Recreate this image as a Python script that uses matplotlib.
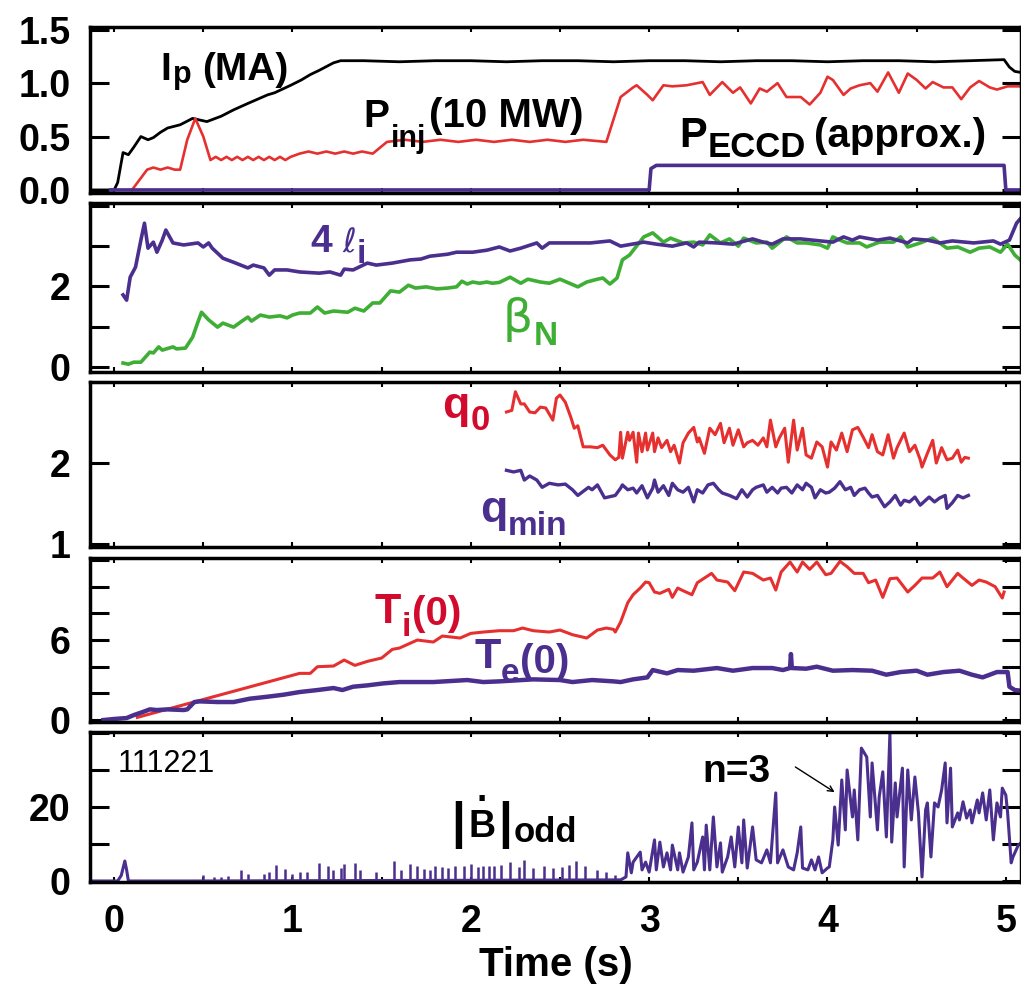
import numpy as np
import matplotlib
matplotlib.use('Agg')
import matplotlib.pyplot as plt
from matplotlib.transforms import IdentityTransform

SANS = ['Liberation Sans', 'DejaVu Sans']
GREEK = ['DejaVu Sans']
plt.rcParams['font.family'] = SANS
plt.rcParams['font.weight'] = 'bold'

RED = '#e5302f'
RED_TXT = '#d20a2e'
PURPLE = '#4a2f8e'
GREEN = '#3fae35'

# ---- panel 1: Ip, Pinj, P_ECCD ----
ip_t = [-0.135, 0.0, 0.02, 0.05, 0.08, 0.11, 0.15, 0.19, 0.22, 0.26,
        0.30, 0.37, 0.44, 0.52, 0.60, 0.67, 0.75, 0.86, 0.90, 0.99,
        1.05, 1.10, 1.15, 1.23, 1.27, 1.40, 1.60, 1.80, 2.00, 2.20,
        2.40, 2.60, 2.80, 3.00, 3.20, 3.40, 3.60, 3.80, 4.00, 4.20,
        4.40, 4.60, 4.80, 4.99, 5.02, 5.05, 5.085]
ip_v = [0, 0, 0.07, 0.35, 0.33, 0.40, 0.50, 0.47, 0.49, 0.54,
        0.58, 0.61, 0.67, 0.64, 0.69, 0.75, 0.81, 0.89, 0.91, 0.98,
        1.03, 1.08, 1.12, 1.19, 1.21, 1.21, 1.20, 1.21, 1.21, 1.20,
        1.21, 1.21, 1.20, 1.21, 1.21, 1.20, 1.21, 1.21, 1.20, 1.21,
        1.21, 1.20, 1.21, 1.22, 1.15, 1.11, 1.10]

pinj_t = [0.10, 0.185, 0.22, 0.26, 0.30, 0.34, 0.37, 0.41, 0.455, 0.50,
          0.54, 0.57, 0.60, 0.63, 0.66, 0.69, 0.72, 0.75, 0.78, 0.81,
          0.84, 0.87, 0.90, 0.93, 0.96, 0.99, 1.04, 1.09, 1.14, 1.19,
          1.24, 1.29, 1.34, 1.39, 1.45, 1.53, 1.63, 1.73, 1.83, 1.93,
          2.03, 2.13, 2.23, 2.33, 2.43, 2.53, 2.63, 2.76, 2.84, 2.91,
          2.93, 2.99, 3.02, 3.08, 3.13, 3.21, 3.30, 3.34, 3.41, 3.47,
          3.51, 3.57, 3.62, 3.66, 3.72, 3.77, 3.85, 3.90, 3.96, 4.00,
          4.03, 4.09, 4.13, 4.18, 4.24, 4.28, 4.34, 4.40, 4.45, 4.50,
          4.55, 4.59, 4.65, 4.70, 4.75, 4.80, 4.85, 4.91, 4.95, 5.01,
          5.085]
pinj_v = [0.0, 0.19, 0.21, 0.19, 0.21, 0.19, 0.19, 0.47, 0.67, 0.50,
          0.28, 0.31, 0.28, 0.31, 0.28, 0.31, 0.28, 0.31, 0.28, 0.31,
          0.28, 0.31, 0.28, 0.31, 0.28, 0.31, 0.34, 0.36, 0.34, 0.36,
          0.34, 0.36, 0.34, 0.36, 0.34, 0.45, 0.47, 0.45, 0.47, 0.45,
          0.47, 0.45, 0.47, 0.45, 0.47, 0.45, 0.47, 0.45, 0.87, 0.96,
          0.98, 0.89, 0.84, 0.98, 0.97, 0.98, 1.01, 0.89, 1.01, 0.91,
          0.96, 0.81, 0.95, 0.92, 1.00, 0.87, 0.87, 0.80, 0.91, 1.06,
          1.03, 0.89, 0.95, 0.98, 1.00, 0.92, 1.10, 0.91, 1.09, 1.03,
          0.95, 1.01, 0.96, 0.96, 0.85, 0.96, 1.02, 0.96, 0.94, 0.97,
          0.97]

eccd_t = [-0.02, 3.00, 3.01, 3.04, 4.99, 5.00, 5.085]
eccd_v = [0.0, 0.0, 0.20, 0.23, 0.23, 0.0, 0.0]

# ---- panel 2: 4 li, beta_N ----
li_t = [0.05, 0.07, 0.09, 0.12, 0.15, 0.17, 0.19, 0.22, 0.24, 0.27,
        0.29, 0.33, 0.39, 0.47, 0.50, 0.53, 0.55, 0.61, 0.67, 0.71,
        0.75, 0.78, 0.84, 0.87, 0.90, 0.97, 1.04, 1.15, 1.21, 1.27,
        1.29, 1.34, 1.42, 1.47, 1.56, 1.66, 1.72, 1.77, 1.87, 1.92,
        2.01, 2.09, 2.16, 2.22, 2.28, 2.37, 2.40, 2.44, 2.57, 2.67,
        2.78, 2.84, 2.97, 3.04, 3.13, 3.21, 3.25, 3.28, 3.38, 3.47,
        3.58, 3.64, 3.69, 3.75, 3.85, 3.96, 4.03, 4.09, 4.14, 4.18,
        4.28, 4.35, 4.45, 4.48, 4.56, 4.63, 4.70, 4.82, 4.93, 4.97,
        5.02, 5.06, 5.085]
li_v = [1.79, 1.66, 2.23, 2.48, 3.15, 3.57, 2.95, 3.10, 2.85, 3.15,
        3.40, 3.08, 3.03, 3.08, 2.98, 3.08, 2.95, 2.70, 2.60, 2.53,
        2.46, 2.53, 2.46, 2.28, 2.41, 2.41, 2.36, 2.33, 2.36, 2.28,
        2.43, 2.41, 2.58, 2.53, 2.58, 2.66, 2.68, 2.75, 2.80, 2.85,
        2.85, 2.90, 2.98, 2.88, 2.95, 3.08, 2.95, 3.08, 3.08, 3.08,
        3.13, 3.00, 3.10, 3.05, 3.00, 3.08, 2.98, 3.10, 3.08, 3.05,
        3.18, 3.10, 3.05, 3.18, 3.18, 3.13, 3.10, 3.23, 3.15, 3.23,
        3.15, 3.20, 3.08, 3.18, 3.15, 3.08, 3.13, 3.08, 3.13, 3.05,
        3.15, 3.57, 3.70]

bn_t = [0.05, 0.08, 0.11, 0.15, 0.17, 0.20, 0.22, 0.25, 0.27, 0.33,
        0.35, 0.40, 0.44, 0.47, 0.49, 0.53, 0.58, 0.61, 0.67, 0.71,
        0.75, 0.77, 0.82, 0.87, 0.93, 0.97, 1.00, 1.04, 1.10, 1.14,
        1.18, 1.23, 1.31, 1.35, 1.40, 1.45, 1.49, 1.55, 1.60, 1.65,
        1.69, 1.75, 1.81, 1.87, 1.92, 1.95, 1.98, 2.01, 2.05, 2.09,
        2.12, 2.16, 2.22, 2.28, 2.32, 2.39, 2.44, 2.50, 2.60, 2.65,
        2.71, 2.74, 2.78, 2.82, 2.85, 2.89, 2.97, 3.02, 3.08, 3.12,
        3.19, 3.25, 3.30, 3.34, 3.40, 3.45, 3.50, 3.53, 3.60, 3.66,
        3.69, 3.77, 3.83, 3.88, 3.96, 4.00, 4.03, 4.07, 4.11, 4.18,
        4.22, 4.29, 4.37, 4.41, 4.45, 4.52, 4.59, 4.67, 4.73, 4.80,
        4.85, 4.91, 4.97, 5.01, 5.05, 5.08]
bn_v = [0.10, 0.07, 0.12, 0.12, 0.22, 0.37, 0.35, 0.50, 0.42, 0.50,
        0.45, 0.47, 0.74, 1.12, 1.36, 1.17, 0.99, 1.09, 0.99, 1.12,
        1.24, 1.14, 1.29, 1.24, 1.27, 1.22, 1.29, 1.34, 1.34, 1.49,
        1.34, 1.39, 1.36, 1.46, 1.39, 1.59, 1.59, 1.89, 1.86, 2.03,
        1.96, 1.99, 1.94, 1.96, 1.99, 2.13, 2.06, 2.11, 2.08, 2.11,
        2.08, 2.10, 2.23, 2.08, 2.18, 2.11, 2.08, 2.18, 1.99, 2.11,
        2.18, 2.21, 2.06, 2.21, 2.66, 2.78, 3.23, 3.33, 3.10, 3.20,
        3.08, 3.10, 3.03, 3.28, 3.08, 3.18, 3.00, 3.20, 3.08, 3.10,
        2.95, 3.23, 3.08, 3.08, 3.03, 2.95, 3.23, 3.15, 3.08, 3.08,
        2.98, 3.10, 3.10, 3.23, 2.98, 3.08, 3.20, 2.95, 2.98, 2.85,
        2.95, 2.98, 2.85, 3.05, 2.78, 2.66]

# ---- panel 3: q0, qmin ----
q0_t = [2.20, 2.23, 2.25, 2.28, 2.30, 2.33, 2.36, 2.39, 2.42, 2.46,
        2.48, 2.50, 2.53, 2.56, 2.58, 2.60, 2.63, 2.67, 2.71, 2.74,
        2.78, 2.81, 2.83, 2.84, 2.85, 2.88, 2.89, 2.91, 2.93, 2.94,
        2.96, 2.98, 2.99, 3.02, 3.03, 3.05, 3.07, 3.10, 3.12, 3.14,
        3.17, 3.19, 3.22, 3.25, 3.27, 3.28, 3.31, 3.34, 3.37, 3.40,
        3.42, 3.45, 3.47, 3.50, 3.53, 3.55, 3.58, 3.61, 3.64, 3.66,
        3.68, 3.71, 3.73, 3.76, 3.78, 3.81, 3.83, 3.86, 3.88, 3.91,
        3.94, 3.97, 4.00, 4.02, 4.05, 4.08, 4.11, 4.14, 4.17, 4.20,
        4.23, 4.25, 4.28, 4.31, 4.34, 4.37, 4.39, 4.43, 4.46, 4.49,
        4.52, 4.53, 4.56, 4.59, 4.61, 4.64, 4.67, 4.70, 4.73, 4.75,
        4.77, 4.79]
q0_v = [2.63, 2.65, 2.88, 2.73, 2.73, 2.63, 2.62, 2.69, 2.68, 2.53,
        2.80, 2.84, 2.75, 2.57, 2.43, 2.46, 2.20, 2.20, 2.19, 2.22,
        2.10, 2.04, 2.07, 2.38, 2.06, 2.38, 2.28, 2.38, 2.01, 2.37,
        2.14, 2.37, 2.16, 2.37, 2.14, 2.31, 2.19, 2.28, 2.14, 2.22,
        2.00, 2.25, 2.37, 2.44, 2.26, 2.31, 2.12, 2.43, 2.35, 2.49,
        2.25, 2.43, 2.22, 2.41, 2.20, 2.25, 2.28, 2.22, 2.31, 2.20,
        2.53, 2.20, 2.31, 2.43, 2.01, 2.53, 2.16, 2.43, 2.10, 2.06,
        2.26, 2.20, 1.95, 2.26, 2.16, 2.37, 2.14, 2.41, 2.44, 2.32,
        2.19, 2.35, 2.14, 2.10, 2.35, 2.06, 2.19, 2.37, 2.14, 2.22,
        2.04, 1.95, 2.12, 2.28, 2.00, 2.19, 2.04, 2.06, 2.16, 2.01,
        2.07, 2.06]

qm_t = [2.20, 2.24, 2.28, 2.30, 2.33, 2.37, 2.40, 2.44, 2.49, 2.53,
        2.57, 2.60, 2.66, 2.68, 2.71, 2.75, 2.81, 2.84, 2.85, 2.88,
        2.91, 2.93, 2.96, 2.99, 3.02, 3.03, 3.05, 3.08, 3.11, 3.13,
        3.16, 3.19, 3.22, 3.25, 3.27, 3.30, 3.33, 3.36, 3.39, 3.41,
        3.45, 3.49, 3.52, 3.55, 3.58, 3.60, 3.64, 3.66, 3.69, 3.72,
        3.74, 3.77, 3.80, 3.83, 3.86, 3.88, 3.91, 3.93, 3.96, 3.99,
        4.01, 4.04, 4.07, 4.10, 4.13, 4.15, 4.18, 4.21, 4.23, 4.25,
        4.28, 4.32, 4.35, 4.38, 4.41, 4.43, 4.46, 4.49, 4.52, 4.55,
        4.57, 4.60, 4.63, 4.66, 4.67, 4.70, 4.73, 4.76, 4.79]
qm_v = [1.91, 1.89, 1.91, 1.79, 1.84, 1.79, 1.70, 1.75, 1.73, 1.74,
        1.67, 1.60, 1.70, 1.67, 1.73, 1.57, 1.60, 1.69, 1.73, 1.67,
        1.69, 1.63, 1.72, 1.57, 1.69, 1.79, 1.64, 1.72, 1.60, 1.75,
        1.67, 1.64, 1.70, 1.52, 1.67, 1.63, 1.73, 1.75, 1.67, 1.63,
        1.60, 1.56, 1.67, 1.58, 1.67, 1.70, 1.73, 1.64, 1.70, 1.63,
        1.69, 1.70, 1.63, 1.73, 1.67, 1.75, 1.70, 1.57, 1.67, 1.63,
        1.64, 1.69, 1.77, 1.67, 1.70, 1.60, 1.67, 1.69, 1.63, 1.58,
        1.60, 1.46, 1.52, 1.60, 1.48, 1.54, 1.52, 1.58, 1.48, 1.54,
        1.58, 1.52, 1.57, 1.60, 1.44, 1.51, 1.60, 1.57, 1.60]

# ---- panel 4: Ti(0), Te(0) ----
ti_t = [0.13, 1.04, 1.10, 1.14, 1.23, 1.29, 1.35, 1.42, 1.50, 1.56,
        1.60, 1.70, 1.79, 1.84, 1.94, 2.00, 2.07, 2.16, 2.24, 2.29,
        2.35, 2.44, 2.50, 2.57, 2.65, 2.71, 2.76, 2.80, 2.81, 2.84,
        2.88, 2.91, 2.95, 2.98, 3.00, 3.03, 3.06, 3.11, 3.13, 3.16,
        3.19, 3.24, 3.27, 3.35, 3.38, 3.44, 3.48, 3.53, 3.58, 3.64,
        3.68, 3.71, 3.74, 3.79, 3.83, 3.86, 3.90, 3.94, 3.99, 4.02,
        4.07, 4.11, 4.15, 4.20, 4.23, 4.27, 4.31, 4.35, 4.39, 4.45,
        4.49, 4.53, 4.59, 4.63, 4.67, 4.73, 4.76, 4.81, 4.85, 4.89,
        4.94, 4.98, 4.99]
ti_v = [0.2, 3.5, 3.5, 4.0, 4.05, 4.5, 4.1, 4.4, 4.65, 5.3,
        5.4, 6.0, 5.85, 6.3, 6.15, 6.5, 6.6, 6.7, 6.7, 6.9,
        6.7, 6.6, 6.75, 6.4, 6.15, 6.75, 6.9, 6.8, 6.6, 7.35,
        8.8, 9.4, 9.9, 10.35, 10.3, 9.6, 9.5, 9.8, 9.2, 9.9,
        9.7, 9.4, 10.3, 11.0, 10.5, 10.35, 9.7, 11.1, 11.0, 10.5,
        10.65, 9.75, 11.1, 11.85, 11.1, 11.85, 11.3, 11.85, 10.9, 11.0,
        11.9, 11.5, 11.0, 11.0, 10.3, 10.5, 9.2, 10.6, 10.65, 9.6,
        10.1, 10.65, 10.65, 11.1, 10.0, 11.0, 10.65, 10.1, 10.5, 10.35,
        10.0, 9.15, 9.6]

te_t = [-0.06, 0.0, 0.07, 0.11, 0.16, 0.20, 0.24, 0.30, 0.39, 0.41,
        0.45, 0.48, 0.58, 0.67, 0.76, 0.86, 0.95, 1.04, 1.14, 1.23,
        1.28, 1.34, 1.42, 1.51, 1.60, 1.79, 1.98, 2.07, 2.16, 2.35,
        2.50, 2.57, 2.68, 2.80, 2.84, 2.91, 2.99, 3.02, 3.10, 3.16,
        3.25, 3.38, 3.47, 3.58, 3.69, 3.75, 3.79, 3.795, 3.80, 3.88,
        3.94, 4.03, 4.14, 4.25, 4.33, 4.41, 4.50, 4.56, 4.65, 4.74,
        4.81, 4.87, 4.95, 5.01, 5.02, 5.05, 5.085]
te_v = [0.0, 0.08, 0.15, 0.37, 0.6, 0.8, 0.75, 0.8, 0.75, 0.8,
        1.35, 1.4, 1.35, 1.35, 1.6, 1.75, 1.9, 2.1, 2.25, 2.4,
        2.25, 2.5, 2.6, 2.75, 2.85, 2.85, 3.0, 2.85, 2.9, 3.05,
        3.0, 2.85, 3.0, 2.9, 2.85, 3.05, 3.2, 3.75, 3.5, 3.75,
        3.7, 3.9, 3.7, 3.9, 3.9, 3.75, 3.9, 4.95, 3.9, 3.85,
        4.0, 3.7, 3.75, 3.7, 3.4, 3.6, 3.7, 3.4, 3.6, 3.7,
        3.4, 3.2, 3.6, 3.6, 2.5, 2.25, 2.2]

# ---- panel 5: |dB/dt| odd ----
bd_t = [-0.135, 0.02, 0.04, 0.06, 0.07, 0.08, 0.45, 2.84, 2.87, 2.88,
        2.90, 2.91, 2.95, 2.96, 2.98, 3.00, 3.03, 3.04, 3.06, 3.08,
        3.10, 3.12, 3.13, 3.16, 3.17, 3.19, 3.22, 3.24, 3.25, 3.27,
        3.30, 3.31, 3.32, 3.34, 3.36, 3.38, 3.40, 3.41, 3.44, 3.46,
        3.48, 3.50, 3.52, 3.53, 3.55, 3.58, 3.60, 3.63, 3.66, 3.68,
        3.71, 3.72, 3.75, 3.78, 3.81, 3.83, 3.85, 3.86, 3.89, 3.91,
        3.93, 3.95, 3.97, 4.00, 4.01, 4.03, 4.04, 4.06, 4.08, 4.10,
        4.11, 4.14, 4.15, 4.17, 4.19, 4.22, 4.24, 4.25, 4.28, 4.29,
        4.31, 4.33, 4.35, 4.36, 4.38, 4.39, 4.42, 4.43, 4.45, 4.47,
        4.49, 4.51, 4.53, 4.55, 4.56, 4.58, 4.60, 4.62, 4.64, 4.66,
        4.67, 4.69, 4.70, 4.73, 4.74, 4.76, 4.78, 4.80, 4.81, 4.84,
        4.85, 4.87, 4.89, 4.91, 4.93, 4.95, 4.97, 4.98, 5.00, 5.01,
        5.03, 5.04, 5.07, 5.085]
bd_v = [0, 0, 1.5, 5.4, 3.0, 0, 0, 0.3, 1.1, 7.6,
        2.2, 5.1, 7.8, 3.0, 5.1, 2.4, 11.1, 3.0, 10.5, 3.8,
        7.6, 3.0, 9.7, 3.0, 7.6, 2.4, 6.5, 15.7, 3.0, 5.1,
        11.9, 3.0, 15.1, 3.0, 17.3, 3.8, 10.3, 2.4, 6.5, 11.9,
        3.8, 14.6, 4.9, 16.5, 3.5, 14.6, 5.7, 4.9, 8.4, 4.9,
        23.8, 4.9, 8.4, 3.8, 3.0, 7.6, 14.6, 3.5, 3.0, 5.7,
        3.0, 6.5, 2.2, 3.5, 3.8, 11.1, 20.0, 9.7, 27.3, 13.8,
        30.0, 17.3, 24.6, 11.1, 35.9, 33.5, 17.3, 31.9, 13.8, 22.7,
        29.5, 11.9, 40.0, 10.5, 26.5, 17.3, 30.5, 3.8, 30.0, 16.5,
        28.1, 18.4, 1.1, 19.2, 21.1, 6.5, 21.1, 20.0, 24.6, 31.9,
        15.7, 30.5, 14.6, 18.4, 16.5, 21.4, 17.0, 19.2, 15.7, 21.9,
        18.4, 23.8, 16.5, 24.6, 11.1, 21.1, 17.3, 25.1, 23.2, 18.4,
        4.9, 6.5, 9.7, 10.3]

# isolated small spikes before 2.85 s
sp_t = [0.50, 0.56, 0.60, 0.64, 0.71, 0.75, 0.84, 0.87, 0.91, 0.96,
        1.00, 1.04, 1.08, 1.15, 1.20, 1.23, 1.27, 1.29, 1.35, 1.38,
        1.47, 1.57, 1.61, 1.66, 1.70, 1.74, 1.77, 1.80, 1.84, 1.87,
        1.91, 1.96, 2.00, 2.04, 2.07, 2.10, 2.13, 2.17, 2.22, 2.27,
        2.30, 2.35, 2.41, 2.46, 2.51, 2.55, 2.59, 2.64, 2.71, 2.76,
        2.81]
sp_v = [1.6, 1.0, 1.2, 1.4, 3.0, 2.0, 2.0, 2.5, 4.3, 3.2,
        2.0, 2.5, 2.5, 4.8, 4.0, 3.0, 3.4, 4.6, 4.8, 3.0,
        2.5, 5.5, 3.0, 4.6, 4.0, 3.3, 3.0, 4.0, 3.8, 3.5,
        4.0, 4.0, 4.6, 3.8, 4.0, 4.0, 4.1, 4.4, 5.0, 3.8,
        5.6, 3.5, 4.0, 3.5, 3.8, 4.4, 5.3, 4.0, 2.9, 2.3,
        1.7]

# axes layout (figure fractions) and scales
rects = [[0.0882, 0.8053, 0.9118, 0.1675],
         [0.0882, 0.6246, 0.9118, 0.1705],
         [0.0882, 0.4480, 0.9118, 0.1665],
         [0.0882, 0.2714, 0.9118, 0.1655],
         [0.0882, 0.1100, 0.9118, 0.1514]]
ylims = [(-0.028, 1.526), (-0.124, 4.07), (0.963, 3.0), (-0.15, 12.15), (-0.27, 40.27)]
yticks = [[0, 0.5, 1.0, 1.5], [0, 1, 2, 3, 4], [1, 2, 3], [0, 2, 4, 6, 8, 10, 12], [0, 10, 20, 30, 40]]
ylabels = [['0.0', '0.5', '1.0', '1.5'], ['0', '', '2', '', ''], ['1', '2', ''],
           ['0', '', '', '6', '', '', ''], ['0', '', '20', '', '']]
xt = [0, 0.5, 1, 1.5, 2, 2.5, 3, 3.5, 4, 4.5, 5]
xl = ['0', '', '1', '', '2', '', '3', '', '4', '', '5']

fig = plt.figure(figsize=(10.21, 9.91), dpi=100)
axes = []
for r, yl, yt, ylab in zip(rects, ylims, yticks, ylabels):
    ax = fig.add_axes(r)
    ax.set_xlim(-0.135, 5.085)
    ax.set_ylim(*yl)
    ax.set_yticks(yt, ylab)
    ax.set_xticks(xt, xl)
    ax.tick_params(axis='y', direction='in', length=14, width=2.2, left=True, right=True,
                   labelsize=27, pad=14)
    ax.tick_params(axis='x', direction='in', length=3.5, width=1.5, top=True, bottom=True,
                   labelbottom=False, labelsize=27, pad=16)
    for s in ax.spines.values():
        s.set_linewidth(2.5)
    axes.append(ax)
ax1, ax2, ax3, ax4, ax5 = axes

ax1.plot(ip_t, ip_v, color='black', lw=2.0)
ax1.plot(pinj_t, pinj_v, color=RED, lw=1.9)
ax1.plot(eccd_t, eccd_v, color=PURPLE, lw=2.6)

ax2.plot(bn_t, bn_v, color=GREEN, lw=2.6)
ax2.plot(li_t, li_v, color=PURPLE, lw=2.6)

ax3.plot(q0_t, q0_v, color=RED, lw=2.2)
ax3.plot(qm_t, qm_v, color=PURPLE, lw=2.4)

ax4.plot(ti_t, ti_v, color=RED, lw=2.2)
ax4.plot(te_t, te_v, color=PURPLE, lw=3.2)

ax5.plot(bd_t, bd_v, color=PURPLE, lw=2.2)
ax5.vlines(sp_t, 0, sp_v, color=PURPLE, lw=1.8)

ax5.tick_params(axis='x', labelbottom=True)
ax5.set_xlabel('Time (s)', fontsize=29, fontweight='bold', labelpad=4)

renderer = fig.canvas.get_renderer()


def rich(ax, x, y, parts, color):
    # lay out text pieces side by side, each with its own size and vertical drop (px)
    x0, y0 = ax.transData.transform((x, y))
    out = []
    for s, size, dx, dy, weight, fam in parts:
        x0 += dx
        t = fig.text(x0, y0 - dy, s, transform=IdentityTransform(), fontsize=size,
                     fontweight=weight, family=fam, color=color, va='baseline', ha='left')
        x0 = t.get_window_extent(renderer=renderer).x1
        out.append(t)
    return out


B = 'bold'
rich(ax1, 0.26, 1.03, [('I', 28, 0, 0, B, SANS), ('p', 22, 2, 3, B, SANS),
                       ('(MA)', 28, 10, 0, B, SANS)], 'black')
rich(ax1, 1.40, 0.59, [('P', 28, 0, 0, B, SANS), ('inj', 22, 1, 20, B, SANS),
                       ('(10 MW)', 29, 3, 0, B, SANS)], 'black')
rich(ax1, 3.17, 0.40, [('P', 30, 0, 0, B, SANS), ('ECCD', 25, 1, 10, B, SANS),
                       ('(approx.)', 29, 8, 0, B, SANS)], 'black')

rich(ax2, 1.10, 2.85, [('4', 28, 0, 0, B, SANS), ('\u2113', 24, 10, 0, 'normal', GREEK),
                       ('i', 24, 1, 11, B, SANS)], PURPLE)
rich(ax2, 2.18, 0.87, [('\u03b2', 34, 0, 0, 'normal', GREEK), ('N', 24, 1, 13, B, SANS)], GREEN)

rich(ax3, 1.84, 2.56, [('q', 32, 0, 0, B, SANS), ('0', 25, 1, 12, B, SANS)], RED_TXT)
rich(ax3, 2.05, 1.27, [('q', 32, 0, 0, B, SANS), ('min', 24, 1, 13, B, SANS)], PURPLE)

rich(ax4, 1.46, 7.3, [('T', 31, 0, 0, B, SANS), ('i', 24, 1, 13, B, SANS),
                      ('(0)', 29, 1, 2, B, SANS)], RED_TXT)
rich(ax4, 2.02, 3.9, [('T', 31, 0, 0, B, SANS), ('e', 24, 0, 14, B, SANS),
                      ('(0)', 29, 1, 5, B, SANS)], PURPLE)

ax5.text(0.02, 29.5, '111221', fontsize=22, fontweight='normal', color='black')
ax5.text(3.30, 26.8, 'n=3', fontsize=28, fontweight='bold', color='black')
ax5.annotate('', xy=(4.04, 24.0), xytext=(3.82, 30.8),
             arrowprops=dict(arrowstyle='->', lw=1, color='black', shrinkA=0, shrinkB=0))
bpieces = rich(ax5, 1.89, 11.9, [('|', 36, 0, 0, B, SANS), ('B', 27, 3, 0, B, SANS),
                                 ('|', 36, 3, 0, B, SANS), ('odd', 25, 2, 5, B, SANS)], 'black')
bb = bpieces[1].get_window_extent(renderer=renderer)
fig.text((bb.x0 + bb.x1) / 2, bb.y1 + 8, '.', transform=IdentityTransform(), fontsize=27,
         fontweight='bold', ha='center', va='baseline', color='black')

fig.savefig('out.png', dpi=100)
